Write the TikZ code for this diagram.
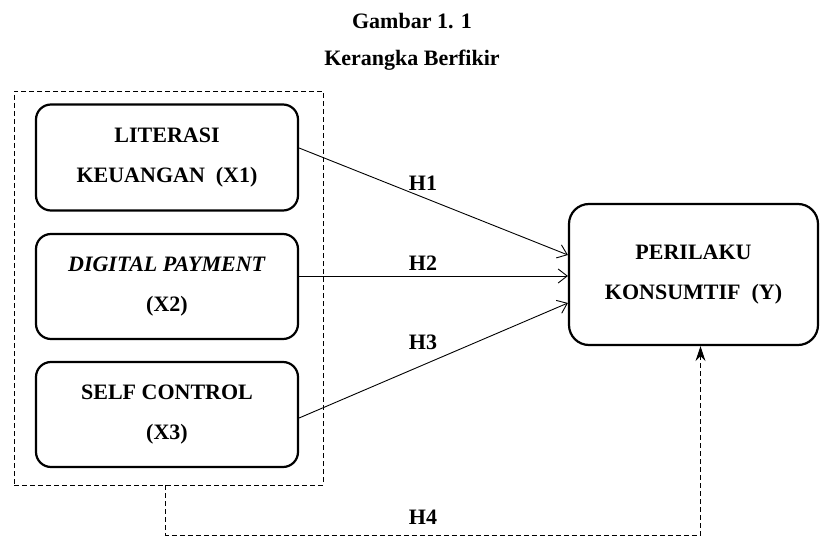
\documentclass[tikz,border=0pt]{standalone}
\usepackage{fontspec}
\setmainfont{Liberation Serif}
\usetikzlibrary{arrows.meta,calc}

\newcommand{\boxfont}{\fontsize{22}{40}\selectfont\bfseries}

\tikzset{
    varbox/.style={draw, line width=2.2pt, rounded corners=15pt, minimum width=262pt, minimum height=106pt, align=center, font=\boxfont, inner sep=0pt},
    hlabel/.style={font=\fontsize{22}{26}\selectfont\bfseries, inner sep=0pt},
    hyp/.style={line width=0.9pt, -{Straight Barb[length=9pt, width=14pt, line width=0.9pt]}},
}

\begin{document}
\begin{tikzpicture}[x=1pt, y=-1pt]

% Canvas
\useasboundingbox[fill=white] (0,0) rectangle (821,537);

% Title
\node[font=\fontsize{22}{26}\selectfont\bfseries] (title) at (412,21) {Gambar 1. 1};
\node[font=\fontsize{22}{26}\selectfont\bfseries] (subtitle) at (412,60) {Kerangka Berfikir};

% Independent variables (X)
\def\cLeft{167}

\node[draw, dashed, line width=0.9pt, dash pattern=on 5pt off 3pt, minimum width=309pt, minimum height=394pt, inner sep=0pt] (grp) at (168.5,288) {};

\node[varbox] (x1) at (\cLeft,157.5) {LITERASI\\KEUANGAN\ \ (X1)};
\node[varbox, minimum height=105pt] (x2) at (\cLeft,286.5) {\textit{DIGITAL PAYMENT}\\(X2)};
\node[varbox, minimum height=105pt] (x3) at (\cLeft,414.5) {SELF CONTROL\\(X3)};

% Dependent variable (Y)
\node[varbox, rounded corners=20pt, minimum width=249pt, minimum height=141pt] (y) at (693.5,274.5) {PERILAKU\\KONSUMTIF\ \ (Y)};

% Hypotheses H1 - H3
\draw[hyp] ([yshift=9.5pt]x1.east) -- ([yshift=19.5pt]y.west);
\draw[hyp] ([yshift=10.5pt]x2.east) -- ([yshift=-1.5pt]y.west);
\draw[hyp] ([yshift=-3.5pt]x3.east) -- ([yshift=-28.5pt]y.west);

\node[hlabel] (h1) at (423,183) {H1};
\node[hlabel] (h2) at (423,263) {H2};
\node[hlabel] (h3) at (423,342) {H3};

% Hypothesis H4 (simultaneous)
\coordinate (h4turn) at (165.5,535);
\draw[line width=1pt, dash pattern=on 5pt off 3pt, -{Stealth[length=15pt, width=10pt]}]
    (grp.south -| h4turn) -- (h4turn) -| ([xshift=7pt]y.south);
\node[hlabel] (h4) at (423,517) {H4};

\end{tikzpicture}
\end{document}
